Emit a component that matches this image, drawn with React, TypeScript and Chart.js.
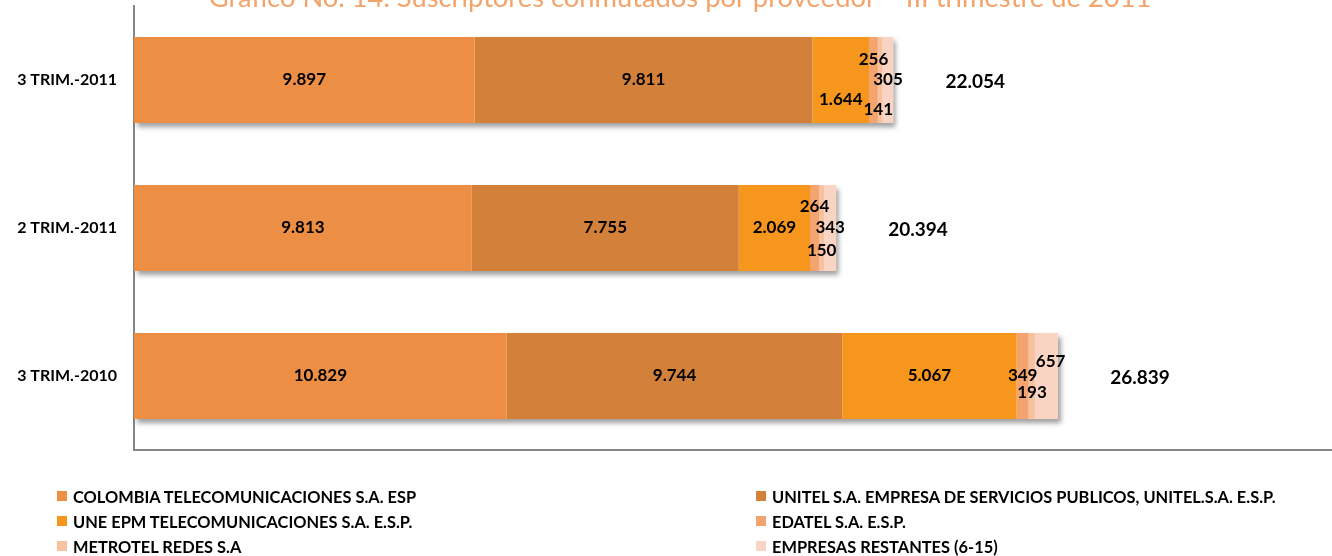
import React, { useEffect, useRef } from 'react';
import { Chart, registerables } from 'chart.js';

Chart.register(...registerables);

const titleText = 'Gráfico No. 14. Suscriptores conmutados por proveedor – III trimestre de 2011';
const categories = ['3 TRIM.-2011', '2 TRIM.-2011', '3 TRIM.-2010'];
const seriesNames = [
  'COLOMBIA TELECOMUNICACIONES S.A. ESP',
  'UNITEL S.A. EMPRESA DE SERVICIOS PUBLICOS, UNITEL.S.A. E.S.P.',
  'UNE EPM TELECOMUNICACIONES S.A. E.S.P.',
  'EDATEL S.A. E.S.P.',
  'METROTEL REDES S.A',
  'EMPRESAS RESTANTES (6-15)',
];
const colombia = [9897, 9813, 10829];
const unitel = [9811, 7755, 9744];
const une = [1644, 2069, 5067];
const edatel = [256, 264, 349];
const metrotel = [141, 150, 193];
const restantes = [305, 343, 657];
const xAxisMax = 34800;

const seriesValues = [colombia, unitel, une, edatel, metrotel, restantes];
const seriesColors = ['#ED8E45', '#D3803B', '#F7961D', '#F4A46F', '#F8C2A1', '#FAD4C3'];

// label nudges (px) for crowded segments, [series][category]
const labelDy = [
  [0, 0, 0],
  [0, 0, 0],
  [20, 0, 0],
  [-20, -21, 0],
  [30, 23, 17],
  [0, 0, -14],
];
const labelDx = [
  [0, 0, 0],
  [0, 0, 0],
  [0, 0, 0],
  [0, 0, 0],
  [-2, 0, 0],
  [0, 0, 4],
];

const FONT = 'Lato, "Noto Sans", sans-serif';

function fmt(v: number): string {
  return String(Math.round(v)).replace(/\B(?=(\d{3})+(?!\d))/g, '.');
}

function totalAt(chart: any, i: number): number {
  return chart.data.datasets.reduce((s: number, ds: any) => s + ds.data[i], 0);
}

const shadowLabels = {
  id: 'shadowLabels',
  beforeDatasetsDraw(chart: any) {
    const ctx = chart.ctx;
    const xs = chart.scales.x;
    const meta0 = chart.getDatasetMeta(0);
    ctx.save();
    ctx.shadowColor = 'rgba(0,0,0,0.38)';
    ctx.shadowBlur = 5;
    ctx.shadowOffsetX = 3;
    ctx.shadowOffsetY = 4;
    ctx.fillStyle = '#ffffff';
    categories.forEach((_c, i) => {
      const el = meta0.data[i];
      const x0 = xs.getPixelForValue(0);
      const x1 = xs.getPixelForValue(totalAt(chart, i));
      const h = el.height;
      ctx.fillRect(x0, el.y - h / 2, x1 - x0, h);
    });
    ctx.restore();
  },
  afterDatasetsDraw(chart: any) {
    const ctx = chart.ctx;
    ctx.save();
    ctx.fillStyle = '#000';
    ctx.textAlign = 'center';
    ctx.textBaseline = 'middle';
    ctx.font = `bold 17px ${FONT}`;
    chart.data.datasets.forEach((ds: any, di: number) => {
      const meta = chart.getDatasetMeta(di);
      meta.data.forEach((el: any, i: number) => {
        const p = el.getCenterPoint();
        ctx.fillText(fmt(ds.data[i]), p.x + labelDx[di][i], p.y + labelDy[di][i]);
      });
    });
    ctx.font = `bold 19px ${FONT}`;
    const xs = chart.scales.x;
    categories.forEach((_c, i) => {
      const total = totalAt(chart, i);
      const y = chart.getDatasetMeta(0).data[i].y;
      ctx.fillText(fmt(total), xs.getPixelForValue(total) + 82, y + 2);
    });
    ctx.restore();
  },
};

const titlePlugin = {
  id: 'clippedTitle',
  afterDraw(chart: any) {
    const ctx = chart.ctx;
    ctx.save();
    ctx.font = `22px ${FONT}`;
    const w = ctx.measureText(titleText).width;
    const size = (22 * 943) / w;
    ctx.font = `${size.toFixed(2)}px ${FONT}`;
    ctx.fillStyle = '#F4A36A';
    ctx.textAlign = 'center';
    ctx.textBaseline = 'alphabetic';
    ctx.fillText(titleText, 680, 7);
    ctx.restore();
  },
};

export default function App() {
  const ref = useRef<HTMLCanvasElement | null>(null);

  useEffect(() => {
    if (!ref.current) return;
    const chart = new Chart(ref.current, {
      type: 'bar',
      data: {
        labels: categories,
        datasets: seriesNames.map((name, i) => ({
          label: name,
          data: seriesValues[i],
          backgroundColor: seriesColors[i],
          borderWidth: 0,
          barPercentage: 0.58,
          categoryPercentage: 1,
        })),
      },
      options: {
        indexAxis: 'y',
        animation: false,
        responsive: false,
        layout: { padding: { top: 6, right: 0, bottom: 106, left: 0 } },
        plugins: {
          legend: { display: false },
          title: { display: false },
          tooltip: { enabled: false },
        },
        scales: {
          x: {
            stacked: true,
            min: 0,
            max: xAxisMax,
            grid: { display: false, drawTicks: false },
            ticks: { display: false },
            border: { display: true, color: '#868686', width: 2 },
            afterFit: (s: any) => {
              s.height = 0;
              s.paddingLeft = 0;
              s.paddingRight = 0;
            },
          },
          y: {
            stacked: true,
            grid: { display: false, drawTicks: false },
            border: { display: true, color: '#868686', width: 2 },
            ticks: {
              color: '#000',
              padding: 17,
              font: { family: FONT, size: 16, weight: 'bold' },
            },
            afterFit: (s: any) => {
              s.width = 134;
              s.paddingTop = 0;
              s.paddingBottom = 0;
            },
          },
        },
      },
      plugins: [shadowLabels, titlePlugin],
    } as any);
    return () => chart.destroy();
  }, []);

  return (
    <div style={{ position: 'absolute', left: 0, top: 0, width: 1332, height: 556, background: '#fff', overflow: 'hidden' }}>
      <canvas ref={ref} width={1332} height={556} style={{ display: 'block', width: 1332, height: 556 }} />
      {seriesNames.map((n, i) => {
        const col = i % 2;
        const row = Math.floor(i / 2);
        return (
          <div
            key={n}
            style={{
              position: 'absolute',
              left: col ? 756 : 57,
              top: 484 + row * 25,
              height: 24,
              display: 'flex',
              alignItems: 'center',
              font: `bold 16.4px ${FONT}`,
              color: '#000',
              whiteSpace: 'nowrap',
            }}
          >
            <span style={{ display: 'inline-block', width: 10, height: 10, background: seriesColors[i], marginRight: 6 }} />
            {n}
          </div>
        );
      })}
    </div>
  );
}
